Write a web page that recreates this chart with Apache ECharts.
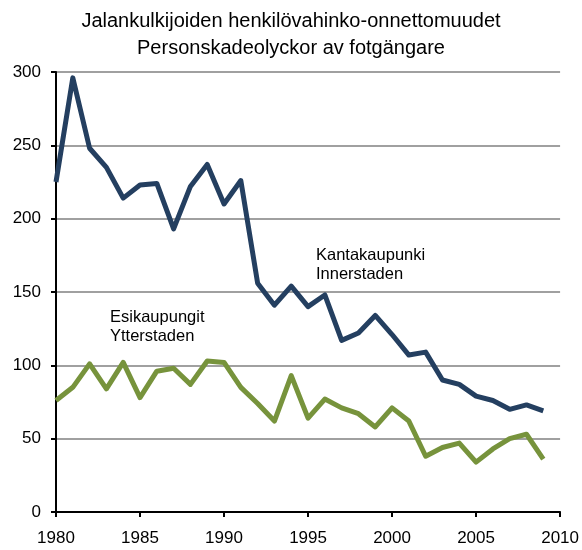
<!DOCTYPE html>
<html>
<head>
<meta charset="utf-8">
<script src="https://cdn.jsdelivr.net/npm/echarts@6/dist/echarts.min.js"></script>
<style>
  html, body { margin: 0; padding: 0; background: #fff; }
  #chart { width: 582px; height: 550px; }
</style>
</head>
<body>
<div id="chart"></div>
<script>
// vuodet / år
var years = [1980, 1981, 1982, 1983, 1984, 1985, 1986, 1987, 1988, 1989,
  1990, 1991, 1992, 1993, 1994, 1995, 1996, 1997, 1998, 1999,
  2000, 2001, 2002, 2003, 2004, 2005, 2006, 2007, 2008, 2009];

// Kantakaupunki / Innerstaden
var innerCity = [225, 296, 248, 235, 214, 223, 224, 193, 222, 237,
  210, 226, 156, 141, 154, 140, 148, 117, 122, 134,
  121, 107, 109, 90, 87, 79, 76, 70, 73, 69];

// Esikaupungit / Ytterstaden
var suburbs = [76, 85, 101, 84, 102, 78, 96, 98, 87, 103,
  102, 85, 74, 62, 93, 64, 77, 71, 67, 58,
  71, 62, 38, 44, 47, 34, 43, 50, 53, 36];

var titleLines = ["Jalankulkijoiden henkilövahinko-onnettomuudet", "Personskadeolyckor av fotgängare"];

function pairs(vals) {
  return years.map(function (y, i) {
    return [y, vals[i]];
  });
}

var font = "Liberation Sans, Arial, sans-serif";
var myChart = echarts.init(document.getElementById("chart"));

var option = {
  animation: false,
  title: {
    text: titleLines.join("\n"),
    left: "center",
    top: 3,
    textStyle: {
      fontFamily: font,
      fontSize: 20,
      fontWeight: "normal",
      color: "#000",
      lineHeight: 27
    }
  },
  grid: {
    left: 56,
    right: 18,
    top: 72,
    bottom: 38
  },
  xAxis: {
    type: "value",
    min: 1980,
    max: 2010,
    interval: 5,
    axisLine: { lineStyle: { color: "#000", width: 2 } },
    axisTick: { show: true, length: 5, lineStyle: { color: "#000", width: 2 } },
    axisLabel: {
      margin: 18,
      fontFamily: font,
      fontSize: 17,
      color: "#000",
      formatter: function (v) { return String(v); }
    },
    splitLine: { show: false }
  },
  yAxis: {
    type: "value",
    min: 0,
    max: 300,
    interval: 50,
    axisLine: { show: true, lineStyle: { color: "#000", width: 2 } },
    axisTick: { show: true, length: 5, lineStyle: { color: "#000", width: 2 } },
    axisLabel: {
      margin: 15,
      fontFamily: font,
      fontSize: 17,
      color: "#000"
    },
    splitLine: { lineStyle: { color: "#a0a0a0", width: 2 } }
  },
  series: [
    {
      name: "Kantakaupunki",
      type: "line",
      data: pairs(innerCity),
      showSymbol: false,
      lineStyle: { color: "#243f60", width: 5, join: "round" }
    },
    {
      name: "Esikaupungit",
      type: "line",
      data: pairs(suburbs),
      showSymbol: false,
      lineStyle: { color: "#77933c", width: 5, join: "round" }
    }
  ],
  graphic: [
    {
      type: "text",
      left: 316,
      top: 246,
      style: {
        text: "Kantakaupunki\nInnerstaden",
        font: "16.5px " + font,
        lineHeight: 19,
        fill: "#000"
      }
    },
    {
      type: "text",
      left: 110,
      top: 308,
      style: {
        text: "Esikaupungit\nYtterstaden",
        font: "16.5px " + font,
        lineHeight: 19,
        fill: "#000"
      }
    }
  ]
};

myChart.setOption(option);
</script>
</body>
</html>
